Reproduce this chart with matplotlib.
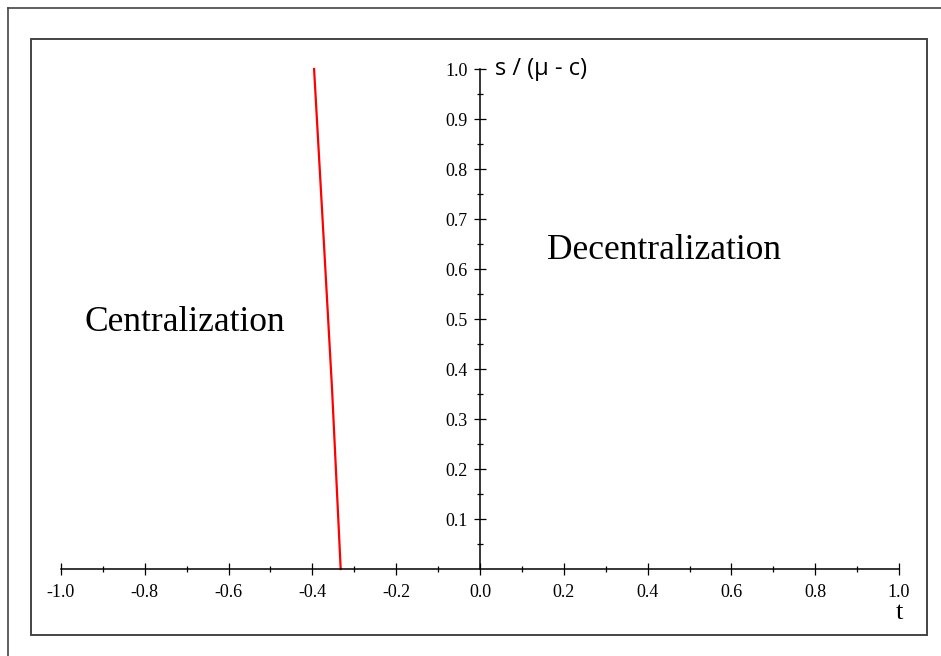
import matplotlib
matplotlib.use('Agg')
import matplotlib.pyplot as plt
from matplotlib.lines import Line2D
from matplotlib.patches import Rectangle
from matplotlib.ticker import MultipleLocator, FixedLocator

# boundary between the two regions
s_vals = [0.0, 0.358, 0.638, 1.0]
t_vals = [-0.3325, -0.353, -0.3716, -0.396]

x_ticks = [-1.0, -0.8, -0.6, -0.4, -0.2, 0.0, 0.2, 0.4, 0.6, 0.8, 1.0]
y_ticks = [0.1, 0.2, 0.3, 0.4, 0.5, 0.6, 0.7, 0.8, 0.9, 1.0]

W, H = 941, 656
fig = plt.figure(figsize=(W / 100, H / 100), dpi=100)

# outer frame (only the left and top edges are inside the picture)
fig.add_artist(Line2D([8 / W, 8 / W], [0, 1 - 8 / H], color='#444444', lw=1.2))
fig.add_artist(Line2D([8 / W, 1], [1 - 8 / H, 1 - 8 / H], color='#444444', lw=1.2))

# axes covering the inner frame
left, right, top, bottom = 31, 926.5, 39, 634.5
ax = fig.add_axes([left / W, 1 - bottom / H, (right - left) / W, (bottom - top) / H])
x0, sx = 480, 419   # pixel of t=0, pixels per unit
y0, sy = 569, 500
ax.set_xlim((left - x0) / sx, (right - x0) / sx)
ax.set_ylim((y0 - bottom) / sy, (y0 - top) / sy)

ax.add_patch(Rectangle((0, 0), 1, 1, transform=ax.transAxes, fill=False,
                       edgecolor='#444444', lw=1.4, clip_on=False))

for side in ['top', 'right']:
    ax.spines[side].set_visible(False)
ax.spines['left'].set_position(('data', 0))
ax.spines['bottom'].set_position(('data', 0))
ax.spines['left'].set_bounds(0, 1)
ax.spines['bottom'].set_bounds(-1, 1)
ax.spines['left'].set_linewidth(1.1)
ax.spines['bottom'].set_linewidth(1.1)

ax.xaxis.set_major_locator(FixedLocator(x_ticks))
ax.xaxis.set_minor_locator(MultipleLocator(0.1))
ax.yaxis.set_major_locator(FixedLocator(y_ticks))
ax.yaxis.set_minor_locator(FixedLocator([0.05 + 0.1 * i for i in range(10)]))
ax.set_xticklabels([f'{v:.1f}' for v in x_ticks])
ax.set_yticklabels([f'{v:.1f}' for v in y_ticks])

ax.tick_params(which='major', direction='inout', length=9, width=0.9,
               labelsize=13)
ax.tick_params(axis='x', which='major', pad=6)
ax.tick_params(axis='y', which='major', pad=4.5)
ax.tick_params(which='minor', direction='inout', length=5, width=0.9)
for lab in ax.get_xticklabels() + ax.get_yticklabels():
    lab.set_fontfamily('Liberation Serif')

ax.plot(t_vals, s_vals, color='red', lw=1.6)

ax.text(0.035, 1.0, 's / (\u03bc - c)', family='Open Sans', fontsize=17,
        ha='left', va='center')
ax.text(1.0, -0.088, 't', family='Liberation Serif', fontsize=19,
        ha='center', va='center')
ax.text(-0.704, 0.476, 'Centralization', family='Liberation Serif', fontsize=25.5,
        ha='center', va='baseline')
ax.text(0.438, 0.621, 'Decentralization', family='Liberation Serif', fontsize=25.5,
        ha='center', va='baseline')

fig.savefig('out.png', dpi=100)
